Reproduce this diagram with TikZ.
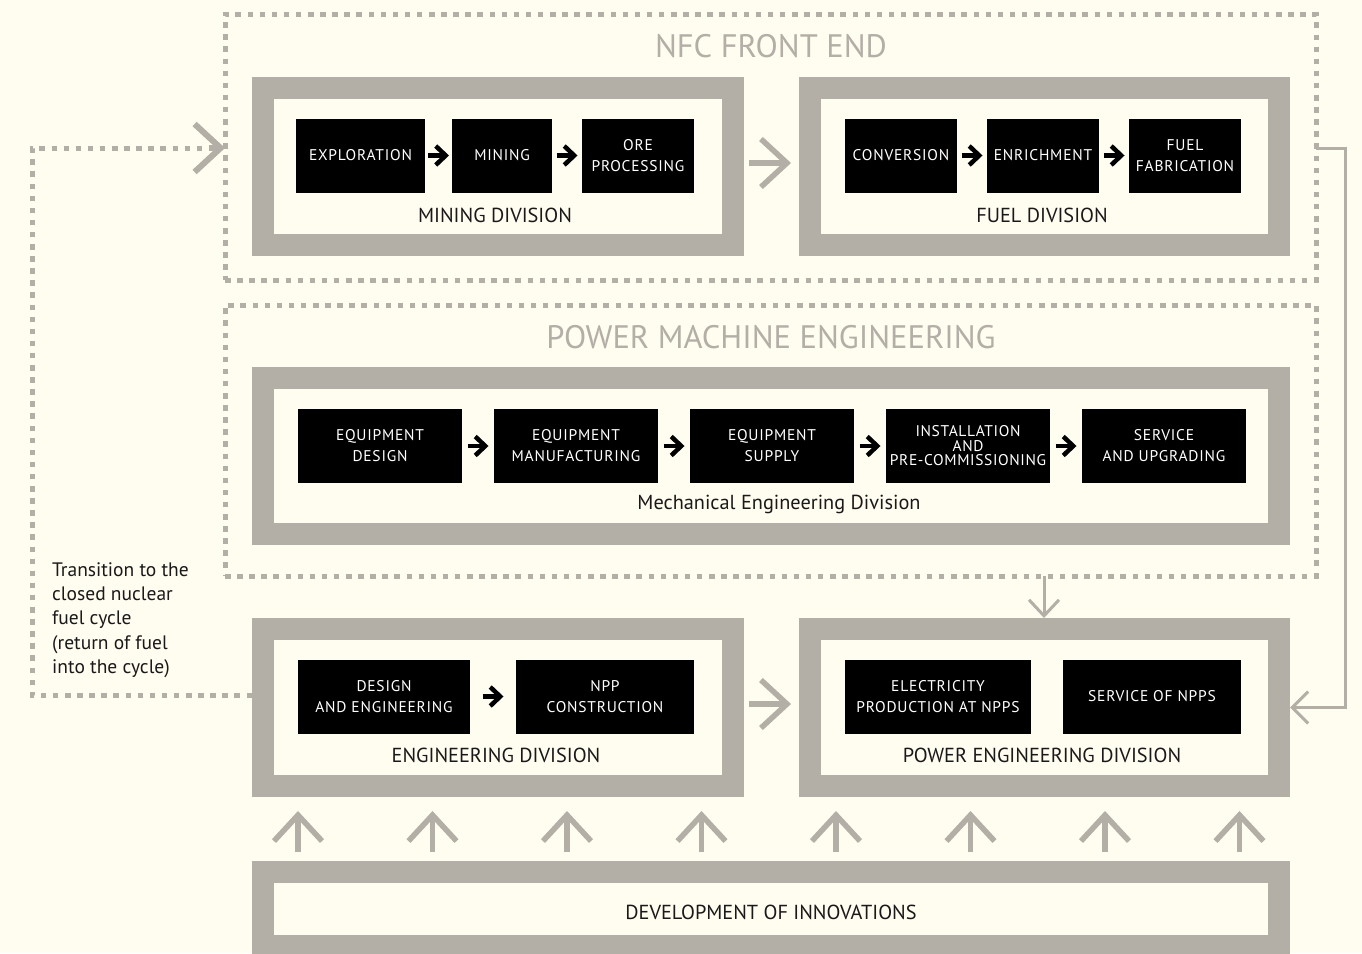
\documentclass[tikz,border=0pt]{standalone}
\usepackage{fontspec}
\setmainfont{PT Sans}
\usetikzlibrary{arrows.meta,calc}
\definecolor{bg}{HTML}{FFFCF0}
\definecolor{frm}{HTML}{B3AEA6}
\newcommand\blkfont{\fontsize{15.5}{21}\selectfont\addfontfeatures{LetterSpace=5}}
\newcommand\blktight{\fontsize{15.5}{14.5}\selectfont\addfontfeatures{LetterSpace=4}}
\tikzset{
  frame/.style={draw=frm, line width=22pt, fill=bg, inner sep=0pt},
  blk/.style={fill=black, text=white, inner sep=0pt, align=center, font=\blkfont, minimum height=74pt},
  dotbox/.style={draw=frm, line width=5pt, dash pattern=on 5.5pt off 6.6pt, outer sep=0pt, inner sep=0pt},
  dotline/.style={draw=frm, line width=5pt, dash pattern=on 5.5pt off 6.6pt},
  title/.style={text=frm, font=\fontsize{32.5}{32.5}\selectfont},
  divlabel/.style={font=\fontsize{20.3}{20.3}\selectfont, text=black!90},
  blkarrow/.style={line width=4.5pt, -{Straight Barb[length=10pt,width=19pt]}},
  grayarrow/.style={draw=frm, line width=5.5pt, -{Straight Barb[length=26pt,width=48pt]}},
  smallarrow/.style={draw=frm, line width=3pt, -{Straight Barb[length=16pt,width=30pt]}},
}
\begin{document}
\begin{tikzpicture}[x=1pt,y=-1pt]
\fill[bg] (0,0) rectangle (1362,953);
\useasboundingbox (0,0) rectangle (1362,953);

% dotted groups
\node[dotbox, minimum width=1091pt, minimum height=266pt] (nfc) at (770.5,147) {};
\node[title] (nfctitle) at (771,46) {NFC FRONT END};
\node[dotbox, minimum width=1091pt, minimum height=271pt] (pme) at (770.5,440.5) {};
\node[title] (pmetitle) at (771,337) {POWER MACHINE ENGINEERING};

% division frames
\node[frame, minimum width=470pt, minimum height=157pt] (mining) at (498,166.5) {};
\node[frame, minimum width=469pt, minimum height=157pt] (fuel) at (1044.5,166.5) {};
\node[frame, minimum width=1016pt, minimum height=156pt] (mech) at (771,456) {};
\node[frame, minimum width=470pt, minimum height=157pt] (eng) at (498,707.5) {};
\node[frame, minimum width=469pt, minimum height=157pt] (power) at (1044.5,707.5) {};
\node[frame, minimum width=1016pt, minimum height=74pt] (dev) at (771,909) {};

% division labels
\node[divlabel] (mininglbl) at (495,215.5) {MINING DIVISION};
\node[divlabel] (fuellbl) at (1042,215.5) {FUEL DIVISION};
\node[divlabel] (mechlbl) at (779,504.5) {Mechanical Engineering Division};
\node[divlabel] (englbl) at (496,755.5) {ENGINEERING DIVISION};
\node[divlabel] (powerlbl) at (1042,755.5) {POWER ENGINEERING DIVISION};
\node[divlabel] (devlbl) at (771,912.5) {DEVELOPMENT OF INNOVATIONS};

% mining chain
\node[blk, minimum width=129pt] (expl) at (360.5,155.5) {EXPLORATION};
\node[blk, minimum width=100pt] (mine) at (502,155.5) {MINING};
\node[blk, minimum width=112pt] (ore) at (638,155.5) {ORE\\PROCESSING};
% fuel chain
\node[blk, minimum width=112pt] (conv) at (901,155.5) {CONVERSION};
\node[blk, minimum width=112pt] (enr) at (1043,155.5) {ENRICHMENT};
\node[blk, minimum width=112pt] (fab) at (1185,155.5) {FUEL\\FABRICATION};
% mechanical engineering chain
\node[blk, minimum width=164pt] (eqd) at (380,446) {EQUIPMENT\\DESIGN};
\node[blk, minimum width=164pt] (eqm) at (576,446) {EQUIPMENT\\MANUFACTURING};
\node[blk, minimum width=164pt] (eqs) at (772,446) {EQUIPMENT\\SUPPLY};
\node[blk, minimum width=164pt, font=\blktight] (inst) at (968,446) {INSTALLATION\\AND\\PRE-COMMISSIONING};
\node[blk, minimum width=164pt] (serv) at (1164,446) {SERVICE\\AND UPGRADING};
% engineering and power
\node[blk, minimum width=172pt] (design) at (384,696.5) {DESIGN\\AND ENGINEERING};
\node[blk, minimum width=178pt] (npp) at (605,696.5) {NPP\\CONSTRUCTION};
\node[blk, minimum width=186pt] (elec) at (938,696.5) {ELECTRICITY\\PRODUCTION AT NPPS};
\node[blk, minimum width=178pt] (snpp) at (1152,696.5) {SERVICE OF NPPS};

% black arrows, centred in the gap between neighbouring steps
\foreach \a/\b in {expl/mine, mine/ore, conv/enr, enr/fab, eqd/eqm, eqm/eqs, eqs/inst, inst/serv, design/npp}
  \draw[blkarrow] ($(\a.east)!0.5!(\b.west)+(-10.5,0)$) -- ($(\a.east)!0.5!(\b.west)+(10.5,0)$);

% gray arrows between divisions
\draw[grayarrow] ([shift={(5,-3.5)}]mining.east) -- ([shift={(-8,-3.5)}]fuel.west);
\draw[grayarrow] ([shift={(5,-3.5)}]eng.east) -- ([shift={(-8,-3.5)}]power.west);
\draw[smallarrow] (pme.south -| 1044,0) -- (power.north -| 1044,0);

% innovations feeding upward
\foreach \x [count=\i] in {298,432.5,567,701.5,836,970.5,1105,1239.5} {
  \coordinate (up\i) at (\x,811);
  \draw[grayarrow] (dev.north -| up\i) ++(0,-9) -- (up\i);
}

% fuel returned to power engineering
\coordinate (rc) at (1345,148);
\draw[draw=frm, line width=3pt, -{Straight Barb[length=16pt,width=32pt]}] (nfc.east |- rc) -- (rc) |- (power.east);

% closed fuel cycle loop
\coordinate (lb) at (32,695);
\coordinate (lt) at (32,148);
\draw[dotline] (eng.west |- lb) -- (lb) -- (lt) -- ([xshift=-14pt]nfc.west |- lt);
\draw[draw=frm, line width=6pt, -{Straight Barb[length=26pt,width=48pt]}] ([xshift=-16pt]nfc.west |- lt) -- (nfc.west |- lt);

\node[anchor=north west, align=left, inner sep=0pt, font=\fontsize{19.5}{24.4}\selectfont, text=black!90] (note) at (52,562) {Transition to the\\closed nuclear\\fuel cycle\\(return of fuel\\into the cycle)};
\end{tikzpicture}
\end{document}
